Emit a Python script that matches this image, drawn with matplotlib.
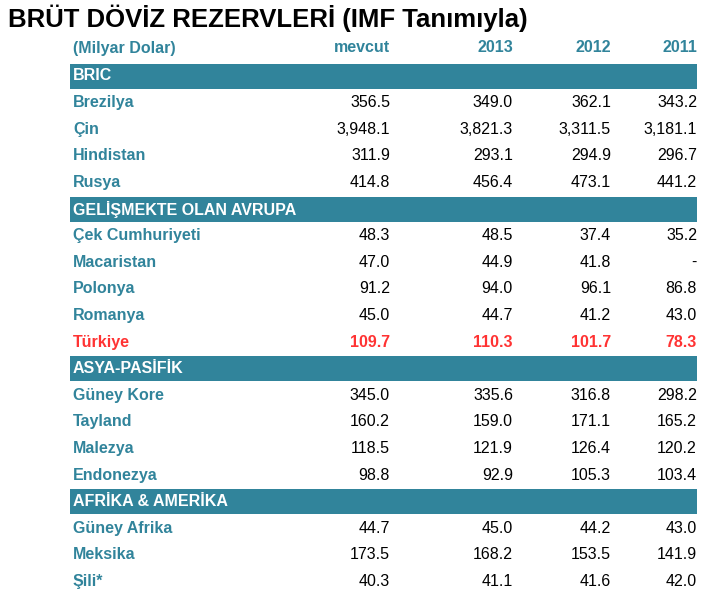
"""Gross FX reserves table (IMF definition)"""

import matplotlib.pyplot as plt
from matplotlib.patches import Rectangle

TEAL = "#31849B"
RED = "#FF3333"

title = "BRÜT DÖVİZ REZERVLERİ (IMF Tanımıyla)"
col_labels = ["mevcut", "2013", "2012", "2011"]
unit_label = "(Milyar Dolar)"

groups = ["BRIC", "GELİŞMEKTE OLAN AVRUPA", "ASYA-PASİFİK", "AFRİKA & AMERİKA"]
countries = [
    ["Brezilya", "Çin", "Hindistan", "Rusya"],
    ["Çek Cumhuriyeti", "Macaristan", "Polonya", "Romanya", "Türkiye"],
    ["Güney Kore", "Tayland", "Malezya", "Endonezya"],
    ["Güney Afrika", "Meksika", "Şili*"],
]
values = [
    [["356.5", "349.0", "362.1", "343.2"],
     ["3,948.1", "3,821.3", "3,311.5", "3,181.1"],
     ["311.9", "293.1", "294.9", "296.7"],
     ["414.8", "456.4", "473.1", "441.2"]],
    [["48.3", "48.5", "37.4", "35.2"],
     ["47.0", "44.9", "41.8", "-"],
     ["91.2", "94.0", "96.1", "86.8"],
     ["45.0", "44.7", "41.2", "43.0"],
     ["109.7", "110.3", "101.7", "78.3"]],
    [["345.0", "335.6", "316.8", "298.2"],
     ["160.2", "159.0", "171.1", "165.2"],
     ["118.5", "121.9", "126.4", "120.2"],
     ["98.8", "92.9", "105.3", "103.4"]],
    [["44.7", "45.0", "44.2", "43.0"],
     ["173.5", "168.2", "153.5", "141.9"],
     ["40.3", "41.1", "41.6", "42.0"]],
]
highlight = "Türkiye"

plt.rcParams["font.family"] = "Liberation Sans"
fig = plt.figure(figsize=(7.21, 5.99), dpi=100)
ax = fig.add_axes([0, 0, 1, 1])
ax.set_xlim(0, 721)
ax.set_ylim(599, 0)
ax.axis("off")

col_x = [390, 513, 611, 697]
left = 73
fs = 11.5
row_h = 26.6

ax.text(8, 18, title, fontsize=18.5, fontweight="bold", va="center")
ax.text(left, 48, unit_label, fontsize=fs, fontweight="bold", color=TEAL, va="center")
for x, lab in zip(col_x, col_labels):
    ax.text(x, 48, lab, fontsize=fs, fontweight="bold", color=TEAL,
            va="center", ha="right")

y = 76
for grp, names, rows in zip(groups, countries, values):
    ax.add_patch(Rectangle((70, y - 12.5), 627, 25, color=TEAL, lw=0))
    ax.text(left, y, grp, fontsize=fs, fontweight="bold", color="white", va="center")
    y += row_h
    for name, row in zip(names, rows):
        hl = name == highlight
        ax.text(left, y, name, fontsize=fs, fontweight="bold",
                color=RED if hl else TEAL, va="center")
        for x, v in zip(col_x, row):
            ax.text(x, y, v, fontsize=fs, va="center", ha="right",
                    color=RED if hl else "black",
                    fontweight="bold" if hl else "normal")
        y += row_h

fig.savefig("out.png", dpi=100)
